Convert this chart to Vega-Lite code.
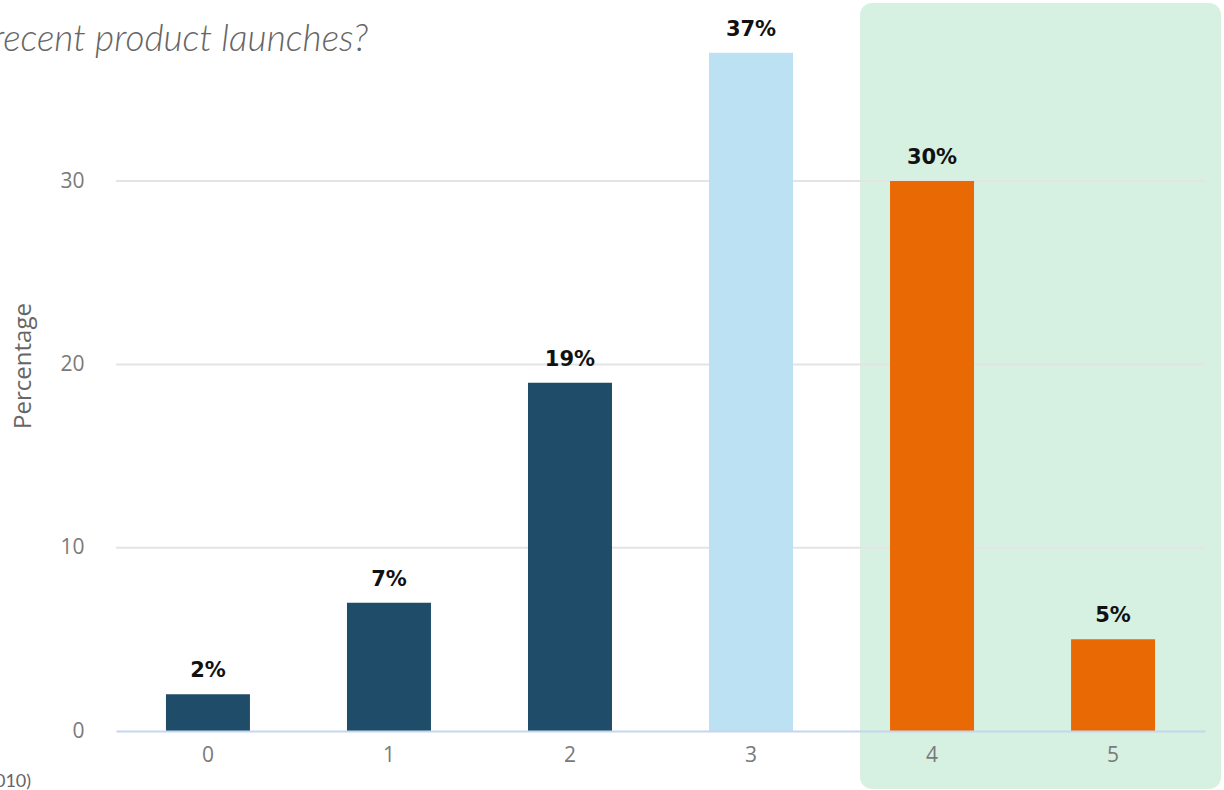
{
  "$schema": "https://vega.github.io/schema/vega-lite/v6.json",
  "width": 1089,
  "height": 731,
  "autosize": {"type": "none"},
  "padding": {"left": 116, "top": 0, "right": 19, "bottom": 59},
  "background": "white",
  "config": {"view": {"stroke": null}},
  "title": {
    "text": "recent product launches?",
    "anchor": "start",
    "frame": "group",
    "font": "Lato",
    "fontSize": 37,
    "fontStyle": "italic",
    "fontWeight": 300,
    "color": "#666666",
    "baseline": "alphabetic",
    "offset": 0,
    "dx": -124,
    "dy": 88
  },
  "datasets": {
    "bars": [
      {"cat": "0", "pct": 2, "label": "2%", "grp": "dark"},
      {"cat": "1", "pct": 7, "label": "7%", "grp": "dark"},
      {"cat": "2", "pct": 19, "label": "19%", "grp": "dark"},
      {"cat": "3", "pct": 37, "label": "37%", "grp": "light"},
      {"cat": "4", "pct": 30, "label": "30%", "grp": "orange"},
      {"cat": "5", "pct": 5, "label": "5%", "grp": "orange"}
    ],
    "highlight": [{"from": "4", "to": "5"}],
    "grid": [{"v": 10}, {"v": 20}, {"v": 30}]
  },
  "layer": [
    {
      "data": {"name": "highlight"},
      "mark": {"type": "rect", "cornerRadius": 12, "color": "#d6f0e2", "xOffset": -30, "x2Offset": 66},
      "encoding": {
        "x": {"field": "from", "type": "ordinal", "bandPosition": 0,
              "scale": {"domain": ["0", "1", "2", "3", "4", "5"], "paddingInner": 0.536, "paddingOuter": 0.276}},
        "x2": {"field": "to", "bandPosition": 1},
        "y": {"datum": 39.72, "type": "quantitative",
              "scale": {"domain": [0, 39.88], "nice": false, "zero": true}},
        "y2": {"datum": -3.16}
      }
    },
    {
      "data": {"name": "grid"},
      "mark": {"type": "rule", "color": "#e4e4e4", "strokeWidth": 2},
      "encoding": {
        "y": {"field": "v", "type": "quantitative"}
      }
    },
    {
      "data": {"name": "bars"},
      "mark": {"type": "bar"},
      "encoding": {
        "x": {"field": "cat", "type": "ordinal", "sort": null,
              "axis": {"labelOffset": 6, "labelAngle": 0, "labelFont": "Open Sans", "labelFontSize": 21, "labelColor": "#7a7a7a",
                       "labelPadding": 24, "ticks": false, "domainColor": "#c6d6ee", "domainWidth": 2, "grid": false,
                       "title": "2010)", "titleX": -132, "titleY": 55, "titleAlign": "left", "titleBaseline": "alphabetic",
                       "titleAnchor": null, "titleFont": "Lato", "titleFontSize": 18, "titleColor": "#666666", "titleFontWeight": "normal"}},
        "y": {"field": "pct", "type": "quantitative",
              "axis": {"values": [0, 10, 20, 30], "labelFont": "Open Sans", "labelFontSize": 21, "labelColor": "#7a7a7a",
                       "labelPadding": 32, "ticks": false, "domain": false, "grid": false,
                       "title": "Percentage", "titleFont": "Open Sans", "titleFontSize": 24, "titleColor": "#666666",
                       "titleFontWeight": "normal", "titlePadding": 24}},
        "color": {"field": "grp", "type": "nominal", "legend": null,
                  "scale": {"domain": ["dark", "light", "orange"], "range": ["#1f4d69", "#bbe1f2", "#e96904"]}}
      }
    },
    {
      "data": {"name": "bars"},
      "mark": {"type": "text", "font": "DejaVu Sans", "fontWeight": "bold", "fontSize": 21, "color": "#111111",
               "baseline": "alphabetic", "dy": -17},
      "encoding": {
        "x": {"field": "cat", "type": "ordinal", "sort": null},
        "y": {"field": "pct", "type": "quantitative"},
        "text": {"field": "label"}
      }
    }
  ]
}
